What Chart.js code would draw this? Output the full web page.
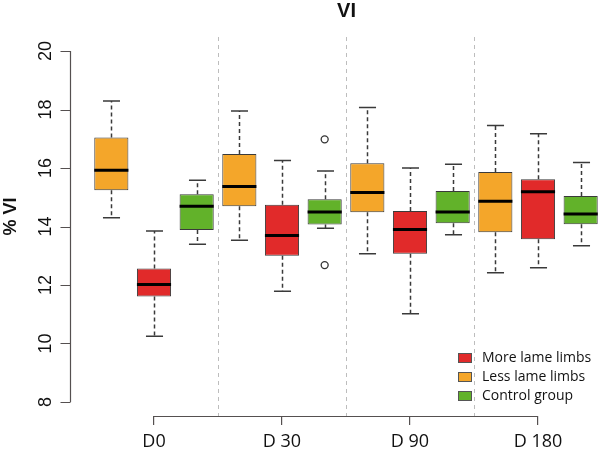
<!DOCTYPE html>
<html>
<head>
<meta charset="utf-8">
<script src="https://cdn.jsdelivr.net/npm/chart.js@4.4.1/dist/chart.umd.min.js"></script>
<style>
  html, body { margin: 0; padding: 0; overflow: hidden; background: #fff; }
  #wrap { width: 604px; height: 453px; }
</style>
</head>
<body>
<div id="wrap"><canvas id="chart" width="604" height="453"></canvas></div>
<script>
// x categories and y tick values
const days = ['D0', 'D 30', 'D 90', 'D 180'];
const yTicks = [8, 10, 12, 14, 16, 18, 20];

// five-number summaries per day: [low whisker, Q1, median, Q3, high whisker]
const lessLame = [
  [14.30, 15.24, 15.92, 17.04, 18.29],
  [13.53, 14.69, 15.37, 16.48, 17.95],
  [13.07, 14.49, 15.16, 16.16, 18.07],
  [12.42, 13.80, 14.86, 15.86, 17.45]
];
const moreLame = [
  [10.25, 11.61, 12.02, 12.56, 13.85],
  [11.79, 13.00, 13.69, 14.74, 16.26],
  [11.02, 13.07, 13.90, 14.53, 16.00],
  [12.59, 13.56, 15.19, 15.62, 17.17]
];
const controlGroup = [
  [13.39, 13.88, 14.69, 15.10, 15.58],
  [13.94, 14.07, 14.50, 14.93, 15.90],
  [13.72, 14.11, 14.50, 15.21, 16.13],
  [13.34, 14.08, 14.43, 15.04, 16.19]
];
// outliers per day (control group only)
const controlOutliers = [[], [16.98, 12.68], [], []];

const RED = '#E12A2A';
const ORANGE = '#F4A62A';
const GREEN = '#62B22A';
const AXIS = '#555050';

function boxDataset(label, stats, color, outliers) {
  return {
    label: label,
    data: stats.map(s => [s[1], s[3]]),
    stats: stats,
    outliers: outliers || stats.map(() => []),
    backgroundColor: color,
    borderColor: '#3a3a3a',
    borderWidth: 1,
    borderSkipped: false,
    categoryPercentage: 1.0,
    barPercentage: 0.8
  };
}

// whiskers, medians, outliers, axes and legend drawn with the chart's scales
const boxPlotPlugin = {
  id: 'boxPlot',
  beforeDatasetsDraw(chart) {
    const { ctx, chartArea, scales } = chart;
    const xs = scales.x, ys = scales.y;
    ctx.save();
    // dashed separators between days
    ctx.strokeStyle = '#bdbdbd';
    ctx.lineWidth = 1;
    ctx.setLineDash([4, 4]);
    for (let i = 0; i < days.length - 1; i++) {
      const x = Math.round((xs.getPixelForValue(i) + xs.getPixelForValue(i + 1)) / 2) + 0.5;
      ctx.beginPath();
      ctx.moveTo(x, chartArea.top);
      ctx.lineTo(x, chartArea.bottom);
      ctx.stroke();
    }
    // whiskers
    chart.data.datasets.forEach((ds, di) => {
      const meta = chart.getDatasetMeta(di);
      meta.data.forEach((bar, i) => {
        const s = ds.stats[i];
        const x = Math.round(bar.x) + 0.5;
        const capW = bar.width * 0.25;
        ctx.strokeStyle = '#3a3a3a';
        ctx.lineWidth = 1.5;
        ctx.setLineDash([4, 3]);
        ctx.beginPath();
        ctx.moveTo(x, ys.getPixelForValue(s[3]));
        ctx.lineTo(x, ys.getPixelForValue(s[4]));
        ctx.moveTo(x, ys.getPixelForValue(s[1]));
        ctx.lineTo(x, ys.getPixelForValue(s[0]));
        ctx.stroke();
        ctx.setLineDash([]);
        ctx.beginPath();
        [s[0], s[4]].forEach(v => {
          const y = ys.getPixelForValue(v);
          ctx.moveTo(x - capW, y);
          ctx.lineTo(x + capW, y);
        });
        ctx.stroke();
      });
    });
    ctx.restore();
  },
  afterDatasetsDraw(chart) {
    const { ctx, chartArea, scales } = chart;
    const xs = scales.x, ys = scales.y;
    ctx.save();
    chart.data.datasets.forEach((ds, di) => {
      const meta = chart.getDatasetMeta(di);
      meta.data.forEach((bar, i) => {
        const s = ds.stats[i];
        const y = ys.getPixelForValue(s[2]);
        ctx.strokeStyle = '#000';
        ctx.lineWidth = 3;
        ctx.beginPath();
        ctx.moveTo(bar.x - bar.width / 2, y);
        ctx.lineTo(bar.x + bar.width / 2, y);
        ctx.stroke();
        ds.outliers[i].forEach(v => {
          ctx.lineWidth = 1.3;
          ctx.strokeStyle = '#333';
          ctx.beginPath();
          ctx.arc(bar.x, ys.getPixelForValue(v), 3.5, 0, Math.PI * 2);
          ctx.stroke();
        });
      });
    });

    // y axis, detached to the left of the plot region
    const pad = 0.04 * chartArea.width;
    const plotLeft = Math.round(chartArea.left - pad) + 0.5;
    ctx.strokeStyle = AXIS;
    ctx.lineWidth = 1.2;
    ctx.beginPath();
    ctx.moveTo(plotLeft, ys.getPixelForValue(yTicks[0]));
    ctx.lineTo(plotLeft, ys.getPixelForValue(yTicks[yTicks.length - 1]));
    yTicks.forEach(v => {
      const y = Math.round(ys.getPixelForValue(v)) + 0.5;
      ctx.moveTo(plotLeft, y);
      ctx.lineTo(plotLeft - 10, y);
    });
    ctx.stroke();
    ctx.fillStyle = '#111';
    ctx.font = '18px "Liberation Sans", Arial, sans-serif';
    ctx.textAlign = 'center';
    ctx.textBaseline = 'middle';
    yTicks.forEach(v => {
      ctx.save();
      ctx.translate(plotLeft - 24, ys.getPixelForValue(v));
      ctx.rotate(-Math.PI / 2);
      ctx.fillText(String(v), 0, 0);
      ctx.restore();
    });
    // y title
    ctx.save();
    ctx.font = 'bold 18px "Liberation Sans", Arial, sans-serif';
    ctx.translate(11, (chartArea.top + chartArea.bottom) / 2 - 10);
    ctx.rotate(-Math.PI / 2);
    ctx.fillText('% VI', 0, 0);
    ctx.restore();

    // x axis line from first to last day
    ctx.strokeStyle = AXIS;
    ctx.lineWidth = 1.2;
    ctx.beginPath();
    const yb = Math.round(chartArea.bottom) + 0.5;
    ctx.moveTo(xs.getPixelForValue(0), yb);
    ctx.lineTo(xs.getPixelForValue(days.length - 1), yb);
    ctx.stroke();

    // main title
    ctx.font = 'bold 20px "Liberation Sans", Arial, sans-serif';
    ctx.fillStyle = '#111';
    ctx.fillText('VI', (plotLeft + chartArea.right + pad) / 2, 11);

    // legend inside the plot, bottom right
    const order = [1, 0, 2];
    ctx.font = '14px "Open Sans", sans-serif';
    ctx.textAlign = 'left';
    order.forEach((di, k) => {
      const ds = chart.data.datasets[di];
      const cy = 358 + k * 19;
      ctx.fillStyle = ds.backgroundColor;
      ctx.fillRect(458, cy - 5, 14, 10);
      ctx.strokeStyle = '#555';
      ctx.lineWidth = 1;
      ctx.strokeRect(458.5, cy - 4.5, 13, 9);
      ctx.fillStyle = '#111';
      ctx.fillText(ds.label, 482, cy);
    });
    ctx.restore();
  }
};

new Chart(document.getElementById('chart'), {
  type: 'bar',
  data: {
    labels: days,
    datasets: [
      boxDataset('Less lame limbs', lessLame, ORANGE),
      boxDataset('More lame limbs', moreLame, RED),
      boxDataset('Control group', controlGroup, GREEN, controlOutliers)
    ]
  },
  options: {
    responsive: false,
    animation: false,
    layout: { padding: { left: 90, right: 2, top: 37, bottom: 0 } },
    plugins: {
      legend: { display: false },
      title: { display: false },
      tooltip: { enabled: false }
    },
    scales: {
      x: {
        type: 'category',
        offset: true,
        border: { display: false },
        grid: {
          display: true,
          drawOnChartArea: false,
          drawTicks: true,
          tickLength: 9,
          offset: false,
          color: AXIS,
          lineWidth: 1.2
        },
        ticks: {
          color: '#111',
          padding: 6,
          font: { family: '"Open Sans", sans-serif', size: 18 }
        },
        afterFit(scale) { scale.height = 37; }
      },
      y: {
        display: false,
        min: 7.52,
        max: 20.48
      }
    }
  },
  plugins: [boxPlotPlugin]
});
</script>
</body>
</html>
